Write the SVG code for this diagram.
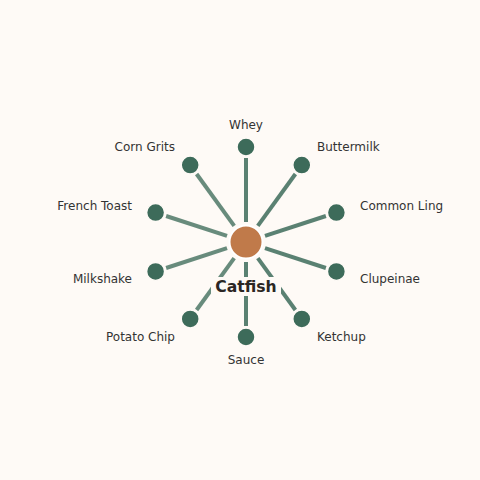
<svg xmlns="http://www.w3.org/2000/svg" width="480" height="480" viewBox="0 0 480 480">
<style>
.bg{fill:#FEFAF6}
.sp{stroke:#3D6B5A;stroke-width:4;stroke-linecap:butt}
.lt{stroke-opacity:0.78}
.dk{stroke-opacity:0.85}
.leaf{fill:#3D6B5A;stroke:#FEFAF6;stroke-width:1.5}
.lbl{font-family:"DejaVu Sans",sans-serif;font-size:12px;fill:#333333}
.hub{font-family:"DejaVu Sans",sans-serif;font-size:15.6px;font-weight:bold;fill:#2B2623}
</style>
<rect class="bg" x="0" y="0" width="480" height="480"/>
<g id="connectors">
<line class="sp dk" x1="246" y1="222" x2="246" y2="158"/>
<line class="sp dk" x1="257.8" y1="225.8" x2="295.4" y2="174"/>
<line class="sp dk" x1="265" y1="235.8" x2="325.9" y2="216"/>
<line class="sp dk" x1="265" y1="248.2" x2="325.9" y2="268"/>
<line class="sp dk" x1="257.8" y1="258.2" x2="295.4" y2="310"/>
<line class="sp dk" x1="246" y1="262" x2="246" y2="326"/>
<line class="sp lt" x1="234.2" y1="258.2" x2="196.6" y2="310"/>
<line class="sp lt" x1="227" y1="248.2" x2="166.1" y2="268"/>
<line class="sp lt" x1="227" y1="235.8" x2="166.1" y2="216"/>
<line class="sp lt" x1="234.2" y1="225.8" x2="196.6" y2="174"/>
</g>
<g id="n-whey"><circle class="leaf" cx="246" cy="147" r="9"/><text class="lbl" x="246" y="128.5" text-anchor="middle">Whey</text></g>
<g id="n-buttermilk"><circle class="leaf" cx="301.8" cy="165.1" r="9"/><text class="lbl" x="317" y="151" text-anchor="start">Buttermilk</text></g>
<g id="n-common-ling"><circle class="leaf" cx="336.4" cy="212.6" r="9"/><text class="lbl" x="360" y="210" text-anchor="start">Common Ling</text></g>
<g id="n-clupeinae"><circle class="leaf" cx="336.4" cy="271.4" r="9"/><text class="lbl" x="360" y="282.5" text-anchor="start">Clupeinae</text></g>
<g id="n-ketchup"><circle class="leaf" cx="301.8" cy="318.9" r="9"/><text class="lbl" x="317" y="341" text-anchor="start">Ketchup</text></g>
<g id="n-sauce"><circle class="leaf" cx="246" cy="337" r="9"/><text class="lbl" x="246" y="364" text-anchor="middle">Sauce</text></g>
<g id="n-potato-chip"><circle class="leaf" cx="190.2" cy="318.9" r="9"/><text class="lbl" x="175" y="341" text-anchor="end">Potato Chip</text></g>
<g id="n-milkshake"><circle class="leaf" cx="155.6" cy="271.4" r="9"/><text class="lbl" x="132" y="282.5" text-anchor="end">Milkshake</text></g>
<g id="n-french-toast"><circle class="leaf" cx="155.6" cy="212.6" r="9"/><text class="lbl" x="132" y="210" text-anchor="end">French Toast</text></g>
<g id="n-corn-grits"><circle class="leaf" cx="190.2" cy="165.1" r="9"/><text class="lbl" x="175" y="151" text-anchor="end">Corn Grits</text></g>
<g id="n-catfish">
<circle cx="246" cy="242" r="16.5" fill="#C07A4A" stroke="#FFFFFF" stroke-width="2"/>
<rect class="bg" x="211" y="277" width="70" height="19"/>
<text class="hub" x="246" y="291.5" text-anchor="middle">Catfish</text>
</g>
</svg>
